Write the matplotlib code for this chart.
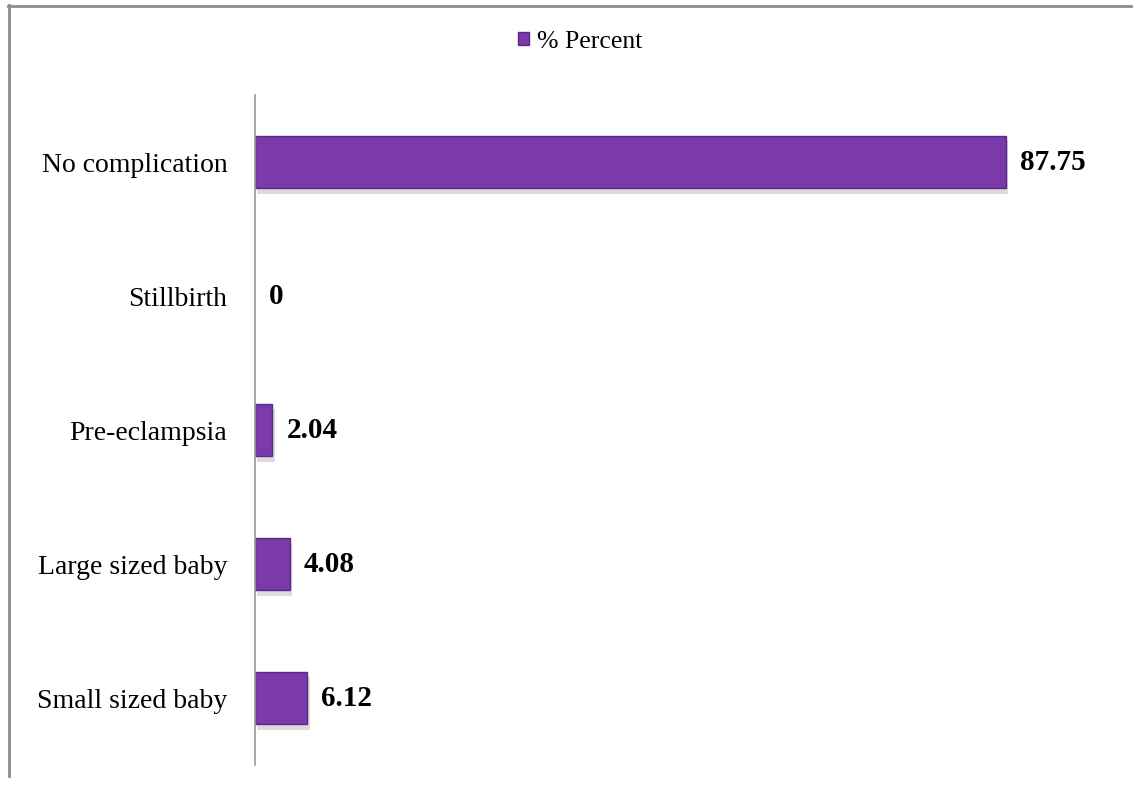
import matplotlib.pyplot as plt
from matplotlib.lines import Line2D
from matplotlib.patches import Patch

# Данные
categories = ['No complication', 'Stillbirth', 'Pre-eclampsia',
              'Large sized baby', 'Small sized baby']
percent = [87.75, 0, 2.04, 4.08, 6.12]
labels = ['87.75', '0', '2.04', '4.08', '6.12']

plt.rcParams['font.family'] = ['Liberation Serif', 'DejaVu Serif']

fig = plt.figure(figsize=(11.33, 7.86), dpi=100)
ax = fig.add_axes([0.2251, 0.0267, 0.755, 0.8524])

bar_color = '#7B3AAA'
edge_color = '#5B2A82'

y = range(len(categories))
# тень под столбиками
ax.barh([i + 0.04 for i in y], percent, height=0.39, left=0.25,
        color='#bbbbbb', alpha=0.5, zorder=1)
ax.barh(y, percent, height=0.39, color=bar_color, edgecolor=edge_color,
        linewidth=[1 if v > 0 else 0 for v in percent], zorder=2)

for i, (v, t) in enumerate(zip(percent, labels)):
    ax.annotate(t, (v, i), xytext=(10, 0), textcoords='offset points',
                va='center', ha='left', fontsize=21, fontweight='bold')

ax.set_yticks(list(y))
ax.set_yticklabels(categories, fontsize=20)
ax.tick_params(axis='y', length=0, pad=20)
ax.set_xticks([])
ax.set_xlim(0, 100)
ax.set_ylim(len(categories) - 0.5, -0.5)

for s in ['top', 'right', 'bottom']:
    ax.spines[s].set_visible(False)
ax.spines['left'].set_color('#999999')
ax.spines['left'].set_linewidth(1.2)

# Легенда
handle = Patch(facecolor=bar_color, edgecolor=edge_color)
fig.legend([handle], ['% Percent'], loc='center', bbox_to_anchor=(0.512, 0.947),
           frameon=False, fontsize=18.5, handlelength=0.45, handleheight=0.45,
           handletextpad=0.3)

# Рамка области диаграммы (обрезана справа и снизу)
fig.add_artist(Line2D([8 / 1133, 1], [1 - 5.5 / 786, 1 - 5.5 / 786],
                      transform=fig.transFigure, color='#8c8c8c', lw=2))
fig.add_artist(Line2D([9 / 1133, 9 / 1133], [1 - 5 / 786, 1 - 776 / 786],
                      transform=fig.transFigure, color='#8c8c8c', lw=2))

fig.savefig('out.png', dpi=100)
